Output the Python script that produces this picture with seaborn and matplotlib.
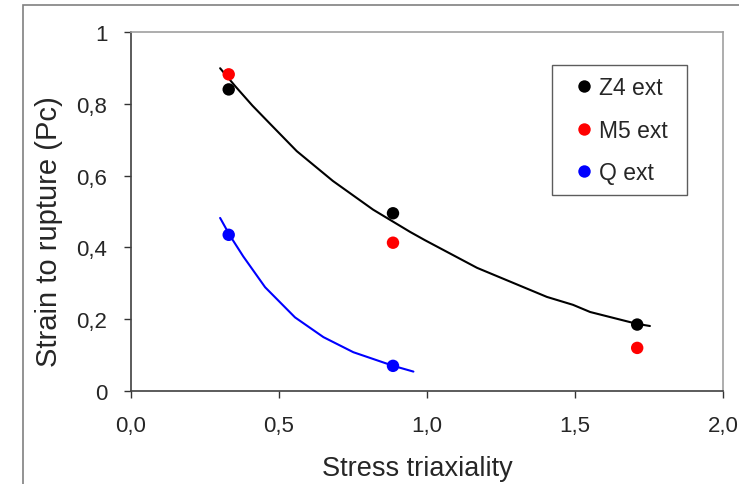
import numpy as np
import pandas as pd
import matplotlib
matplotlib.use("Agg")
import matplotlib.pyplot as plt
from matplotlib.patches import Rectangle
import seaborn as sns

# measured points
triax = [0.33, 0.885, 1.71]
z4_ext = [0.84, 0.495, 0.185]
m5_ext = [0.882, 0.413, 0.12]
q_triax = [0.33, 0.885]
q_ext = [0.435, 0.07]

# trend curves
z4_curve_x = [0.301, 0.351, 0.410, 0.470, 0.560, 0.682, 0.818, 0.943, 0.993, 1.169, 1.405, 1.493, 1.551, 1.709, 1.753]
z4_curve_y = [0.899, 0.850, 0.795, 0.744, 0.668, 0.585, 0.505, 0.443, 0.420, 0.343, 0.262, 0.240, 0.220, 0.187, 0.181]
q_curve_x = [0.301, 0.334, 0.379, 0.453, 0.554, 0.650, 0.751, 0.886, 0.954]
q_curve_y = [0.482, 0.433, 0.375, 0.289, 0.205, 0.150, 0.108, 0.070, 0.054]

series_names = ["Z4 ext", "M5 ext", "Q ext"]
colors = {"Z4 ext": "#000000", "M5 ext": "#ff0000", "Q ext": "#0000ff"}

pts = pd.DataFrame({
    "x": triax + triax + q_triax,
    "y": z4_ext + m5_ext + q_ext,
    "series": ["Z4 ext"] * 3 + ["M5 ext"] * 3 + ["Q ext"] * 2,
})

sns.set_style("white")
plt.rcParams['font.family'] = ['Liberation Sans', 'DejaVu Sans']

fig = plt.figure(figsize=(7.39, 4.85), dpi=100)
ax = fig.add_axes([0.1773, 0.1918, 0.8011, 0.7402])

sns.lineplot(x=z4_curve_x, y=z4_curve_y, sort=False, color="black", lw=1.5, ax=ax, legend=False)
sns.lineplot(x=q_curve_x, y=q_curve_y, sort=False, color="#0000ff", lw=1.5, ax=ax, legend=False)
sns.scatterplot(data=pts, x="x", y="y", hue="series", hue_order=series_names, palette=colors,
                s=80, edgecolor="none", ax=ax, zorder=3)

ax.set_xlim(0, 2)
ax.set_ylim(0, 1)
ax.set_xticks([0, 0.5, 1.0, 1.5, 2.0])
ax.set_xticklabels(["0,0", "0,5", "1,0", "1,5", "2,0"])
ax.set_yticks([0, 0.2, 0.4, 0.6, 0.8, 1.0])
ax.set_yticklabels(["0", "0,2", "0,4", "0,6", "0,8", "1"])
ax.tick_params(axis="both", direction="out", length=5, width=1, color="#333333",
               labelsize=16, bottom=True, left=True)
ax.tick_params(axis="x", pad=12)
ax.tick_params(axis="y", pad=12)
ax.set_xlabel("Stress triaxiality", fontsize=19.5, labelpad=14)
ax.set_ylabel("Strain to rupture (Pc)", fontsize=21, labelpad=10)
ax.xaxis.label.set_x(0.483)
ax.yaxis.label.set_y(0.448)

for side in ["left", "bottom"]:
    ax.spines[side].set_color("#404040")
    ax.spines[side].set_linewidth(1.2)
for side in ["top", "right"]:
    ax.spines[side].set_color("#a0a0a0")
    ax.spines[side].set_linewidth(1.2)

# legend box: 552..687 px wide, top at 66 px
leg = ax.legend(loc="upper left", bbox_to_anchor=(552 / 739, 1 - 194 / 485, 135 / 739, 128 / 485),
                bbox_transform=fig.transFigure, mode="expand",
                fontsize=16.5, frameon=True, fancybox=False, handletextpad=-0.25, labelspacing=0.84,
                borderpad=0.5, markerscale=1.0, handlelength=1.8, borderaxespad=0)
leg.get_frame().set_edgecolor("#333333")
leg.get_frame().set_linewidth(1.0)

# outer chart border
fig.patches.append(Rectangle((23 / 739, -0.2), 1.2, 1.2 - 6 / 485, transform=fig.transFigure,
                             fill=False, edgecolor="#808080", lw=1.2))

fig.savefig("out.png", dpi=100)
